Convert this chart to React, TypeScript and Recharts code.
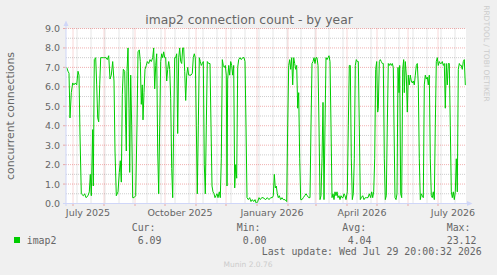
import React from 'react';
import { LineChart, Line, XAxis, YAxis, ReferenceLine, ReferenceArea } from 'recharts';

// day offset from the left edge of the graph (≈ 24 Jun 2025)
const days = [
  0.7, 2, 3, 4, 5.3, 6.7, 8, 9.3, 10.7, 12, 13, 14, 15.3, 17.3, 18.7, 20, 22, 23.3, 24.3, 25.3,
  26.7, 27.3, 28.3, 29.7, 30.7, 31.7, 32.7, 33.7, 34.7, 36, 37.3, 38.7, 40, 41.3, 42.7, 44, 45.3, 46.7, 48, 49,
  50.3, 52, 53.3, 54.3, 55.3, 56.3, 57.3, 58.7, 59.7, 60.3, 61, 62, 63, 63.7, 64.7, 65.7, 66.7, 68, 69.7, 71,
  72, 73.3, 74.3, 75.3, 76.3, 77, 78, 79, 80.3, 81.3, 82.7, 84, 85.3, 86.7, 87.7, 88.7, 89.7, 90.7, 91.7, 92.7,
  93.7, 94.7, 95.7, 96.7, 97.7, 98.7, 99.7, 100.7, 101.7, 102.7, 103.7, 104.7, 105.7, 106.7, 107.7, 108.7, 109.7, 110.7, 111.7, 112.7,
  113.7, 114.7, 115.7, 116.7, 117.7, 118.7, 119.7, 120.7, 121.7, 122.7, 123.7, 125, 126.3, 127.3, 128.3, 129.3, 130.3, 131.3, 132.3, 133.3,
  134.3, 135.3, 136.3, 137.3, 138.3, 139.3, 140.3, 141.3, 142.7, 144, 145, 146, 147, 148, 149, 150, 151, 152, 153.3, 154.3,
  155.3, 156.3, 157.3, 158.3, 159.3, 160.3, 161, 161.7, 162.7, 163.7, 164.7, 165.7, 166.7, 167.7, 168.7, 169.7, 170.7, 171.7, 172.7, 174,
  175.3, 176.7, 178, 179, 180, 181, 182.3, 183.7, 185, 186.3, 187.7, 189, 190.3, 191.7, 193, 194.3, 195.7, 197,
  199.7, 201.3, 203, 204.7, 206.3, 207.3, 208.3, 209.3, 210.3, 211.3, 212.3, 213.3, 214.7, 216, 217.3, 219, 220.7,
  221.7, 222.7, 223.7, 224.7, 225.7, 226.7, 227.7, 228.7, 229.7, 230.7, 231.7, 232.7, 233.7, 234.7, 236, 237.3, 238.7, 240, 241.3, 242.7, 244,
  245, 246, 247, 248, 249, 250, 251, 252, 253, 254, 255, 256, 257, 258, 259, 260, 261, 262, 263, 264,
  265, 266, 267, 268, 269, 270, 271, 272, 273, 274, 275, 276, 277, 278, 279, 280, 281.3, 282.3, 283.3, 284.3,
  285.3, 286.3, 287.3, 288.3, 289.3, 290.3, 291.3, 292.3, 293.3, 294.3, 295.3, 296.7, 298, 299.3, 300.7, 302, 303.3, 304.7, 305.7, 306.7,
  307.7, 308.7, 309.7, 310.7, 311.7, 312.3, 313.3, 314.3, 315.3, 316.3, 317.3, 318.3, 319.3, 320.3, 321.3, 322.3, 323.3, 324.3, 325.3, 326.3,
  327.3, 328, 329, 330, 331, 332, 333, 333.7, 334.7, 335.7, 336.7, 337.7, 338.3, 339.3, 340.3, 341.3, 342.3, 343.3, 344.3, 345.3,
  346.3, 347.3, 348.3, 349.3, 350.3, 351.3, 352.3, 353.3, 354.3, 355.3, 356.3, 357.3, 358.3, 359.3, 360.3, 361.3, 362.3, 363.3, 364.3, 365.3,
  366.3, 367.3, 368.3, 369.3, 370.3, 371.3, 372.3, 373.3, 374.3, 375.3, 376.3, 377.3, 378.3, 379.3, 380.3, 381.3, 382.3, 383.3, 384.3, 385.3,
  386.3, 387.3, 388.3, 389.3, 390.3, 391.3, 392.3, 393.3, 394.3, 395.3, 396.3, 397.3, 398.3, 399.3,
];

// concurrent connections at each of those days
const counts = [
  7.0, 6.8, 6.7, 4.4, 5.7, 6.2, 6.1, 6.2, 6.1, 6.8, 6.6, 3.5, 0.5, 0.4, 0.5, 0.3, 0.4, 0.6, 1.5, 0.4,
  3.8, 0.9, 7.4, 7.5, 6.1, 4.4, 4.2, 6.1, 7.5, 7.5, 7.5, 7.5, 7.5, 7.4, 7.6, 6.4, 6.6, 7.3, 6.3, 2.7,
  0.4, 0.6, 1.6, 2.2, 1.1, 5.6, 6.9, 6.8, 4.0, 2.7, 6.8, 8.0, 4.9, 1.6, 6.6, 4.0, 0.3, 0.3, 0.4, 4.0,
  7.8, 7.9, 7.3, 5.1, 6.1, 4.3, 5.7, 6.9, 7.1, 7.3, 7.2, 7.4, 7.3, 7.5, 8.0, 5.9, 7.1, 7.7, 2.7, 0.5,
  4.0, 7.3, 7.7, 7.5, 7.8, 7.5, 7.5, 6.3, 6.9, 7.3, 6.9, 5.4, 1.8, 0.3, 4.0, 7.5, 7.5, 7.7, 3.6, 7.5,
  8.0, 7.3, 7.2, 8.0, 8.0, 6.8, 5.3, 6.6, 7.0, 6.6, 6.6, 6.6, 6.7, 7.5, 7.7, 7.5, 4.0, 0.5, 4.0, 7.5,
  7.3, 7.1, 7.2, 7.3, 2.0, 0.5, 4.0, 7.3, 7.2, 7.2, 4.0, 0.9, 0.6, 0.5, 0.3, 0.4, 0.5, 0.3, 0.6, 0.3,
  2.3, 7.4, 7.1, 7.0, 7.1, 6.6, 0.9, 6.4, 7.1, 6.6, 7.3, 7.1, 6.6, 7.1, 0.8, 2.0, 1.3, 7.0, 7.4, 7.5,
  7.4, 7.5, 7.5, 7.3, 4.0, 0.3, 0.2, 0.3, 0.1, 0.2, 0.1, 0.2, 0.0, 0.1, 0.3, 0.2, 0.3, 0.3,
  0.2, 0.3, 0.2, 0.3, 0.3, 0.4, 1.5, 0.8, 0.9, 0.5, 0.3, 0.4, 0.2, 0.3, 0.2, 0.2, 0.1,
  4.0, 7.1, 7.4, 6.9, 7.5, 6.1, 7.5, 7.2, 6.9, 7.1, 4.9, 5.7, 2.3, 0.2, 0.2, 0.3, 0.4, 0.5, 0.4, 0.3,
  0.3, 4.0, 7.2, 7.3, 7.5, 7.2, 7.5, 7.5, 7.1, 4.0, 0.2, 0.4, 2.3, 5.2, 0.2, 4.0, 7.5, 7.4, 7.5, 7.6,
  7.3, 4.0, 0.3, 0.5, 0.2, 0.6, 0.4, 0.6, 0.3, 0.4, 0.2, 0.4, 0.3, 0.3, 0.5, 0.4, 0.2, 0.6, 4.0, 7.1,
  7.1, 2.3, 0.2, 0.5, 2.3, 7.1, 7.4, 7.3, 7.3, 4.0, 0.2, 0.3, 0.4, 0.2, 0.3, 0.3, 0.3, 0.5, 0.3, 0.6,
  0.3, 0.6, 2.3, 6.9, 7.3, 4.7, 4.9, 7.3, 7.4, 7.3, 7.2, 7.2, 2.3, 0.2, 0.4, 4.0, 7.2, 7.1, 7.2, 7.1,
  7.2, 7.0, 4.0, 0.3, 0.2, 0.5, 7.0, 5.7, 7.1, 0.5, 0.3, 6.9, 7.4, 5.7, 7.3, 6.6, 4.7, 6.6, 6.1, 6.6,
  6.3, 6.2, 6.3, 6.1, 6.6, 7.1, 7.2, 6.1, 2.3, 0.2, 0.5, 0.4, 0.3, 6.1, 6.6, 6.4, 6.5, 6.1, 6.6, 2.3,
  0.4, 0.3, 0.6, 0.2, 4.0, 7.3, 7.5, 7.1, 7.3, 7.2, 7.2, 7.3, 7.1, 7.2, 4.9, 7.2, 6.1, 7.2, 7.2, 4.0,
  0.6, 0.3, 0.6, 0.2, 0.6, 2.3, 0.6, 6.9, 7.2, 7.1, 7.1, 6.9, 7.3, 7.4, 6.09,
];

const yTicks = [0, 1, 2, 3, 4, 5, 6, 7, 8, 9];
const yMinorTicks = [0.5, 1.5, 2.5, 3.5, 4.5, 5.5, 6.5, 7.5, 8.5];
const monthStartDays = [7, 38, 69, 99, 130, 160, 191, 222, 250, 281, 311, 342, 372];
const minorGridDays = [11, 25, 39, 53, 67, 81, 95, 109, 123, 137, 151, 165, 179, 193, 207, 221, 235, 249, 263, 277, 291, 305, 319, 333, 347, 361, 375, 389];
const xLabelDays = [22, 114, 206, 296, 387];
const xLabels = ['July 2025', 'October 2025', 'January 2026', 'April 2026', 'July 2026'];

const title = 'imap2 connection count - by year';
const yAxisLabel = 'concurrent connections';
const seriesName = 'imap2';
const legendHeaders = ['Cur:', 'Min:', 'Avg:', 'Max:'];
const legendValues = ['6.09', '0.00', '4.04', '23.12'];
const lastUpdate = 'Last update: Wed Jul 29 20:00:32 2026';
const footer = 'Munin 2.0.76';
const sideText = 'RRDTOOL / TOBI OETIKER';

const chartData = days.map((d, i) => ({ day: d, count: counts[i] }));

const SANS = '"DejaVu Sans", sans-serif';
const MONO = '"DejaVu Sans Mono", monospace';
const FONT_COLOR = '#666666';
const MAJOR = 'rgba(222,79,79,0.45)';
const MINOR = 'rgba(143,143,143,0.45)';
const AXIS = '#CFD6F8';

const XTick = (props: any) => {
  const { x, y, payload } = props;
  const v = payload.value;
  const li = xLabelDays.indexOf(v);
  if (li >= 0) {
    return (
      <text x={x} y={y + 12} textAnchor="middle" fontFamily={SANS} fontSize={9.5} fill={FONT_COLOR}>
        {xLabels[li]}
      </text>
    );
  }
  return <line x1={x} x2={x} y1={y} y2={y + 2.5} stroke={MAJOR} />;
};

const YTick = (props: any) => {
  const { x, y, payload } = props;
  return (
    <g>
      <line x1={x - 3} x2={x} y1={y} y2={y} stroke={MAJOR} />
      <text x={x - 6} y={y + 3.5} textAnchor="end" fontFamily={SANS} fontSize={9.5} fill={FONT_COLOR}>
        {Number(payload.value).toFixed(1)}
      </text>
    </g>
  );
};

const xTickValues = [...monthStartDays, ...xLabelDays].sort((a, b) => a - b);

export default function App() {
  return (
    <div style={{ position: 'fixed', left: 0, top: 0, width: 497, height: 275, background: '#F0F0F0' }}>
      <LineChart
        width={497}
        height={275}
        data={chartData}
        margin={{ top: 28.5, right: 31, bottom: 41.5, left: 0 }}
      >
        <XAxis
          dataKey="day"
          type="number"
          domain={[0, 400]}
          ticks={xTickValues}
          interval={0}
          tick={<XTick />}
          tickLine={false}
          axisLine={false}
          tickSize={0}
          tickMargin={0}
          height={30}
        />
        <YAxis
          type="number"
          domain={[0, 9]}
          ticks={yTicks}
          interval={0}
          tick={<YTick />}
          tickLine={false}
          axisLine={false}
          tickSize={0}
          tickMargin={0}
          width={66}
        />
        <ReferenceArea x1={0} x2={400} y1={0} y2={9} fill="#FFFFFF" fillOpacity={1} stroke="none" ifOverflow="visible" />
        {yMinorTicks.map((v) => (
          <ReferenceLine key={'hm' + v} y={v} stroke={MINOR} strokeDasharray="1 1" />
        ))}
        {minorGridDays.map((v) => (
          <ReferenceLine key={'vm' + v} x={v} stroke={MINOR} strokeDasharray="1 1" />
        ))}
        {yTicks.filter((v) => v > 0).map((v) => (
          <ReferenceLine key={'hM' + v} y={v} stroke={MAJOR} strokeDasharray="1 1" />
        ))}
        {monthStartDays.map((v) => (
          <ReferenceLine key={'vM' + v} x={v} stroke={MAJOR} strokeDasharray="1 1" />
        ))}
        <Line
          type="linear"
          dataKey="count"
          stroke="#00CC00"
          strokeWidth={1}
          dot={false}
          activeDot={false}
          isAnimationActive={false}
        />
      </LineChart>
      <svg width={497} height={275} style={{ position: 'absolute', left: 0, top: 0, pointerEvents: 'none' }}>
        <line x1={66} y1={206} x2={66} y2={24} stroke={AXIS} strokeWidth={1} />
        <polygon points="63.5,26 68.5,26 66,20.5" fill={AXIS} />
        <line x1={63} y1={203.5} x2={469} y2={203.5} stroke={AXIS} strokeWidth={1} />
        <polygon points="467,201 467,206 472.5,203.5" fill={AXIS} />

        <text x={249} y={23.5} textAnchor="middle" fontFamily={SANS} fontSize={12.3} fill={FONT_COLOR}>
          {title}
        </text>
        <text
          x={10.7}
          y={116}
          textAnchor="middle"
          dominantBaseline="central"
          transform="rotate(-90, 10.7, 116)"
          fontFamily={SANS}
          fontSize={10.9}
          fill={FONT_COLOR}
        >
          {yAxisLabel}
        </text>
        <text
          x={486.7}
          y={53.5}
          textAnchor="middle"
          dominantBaseline="central"
          transform="rotate(90, 486.7, 53.5)"
          fontFamily={SANS}
          fontSize={7.5}
          fill="#CCCCCC"
        >
          {sideText}
        </text>

        <text x={131.7} y={230.8} fontFamily={MONO} fontSize={9.9} fill={FONT_COLOR}>{legendHeaders[0]}</text>
        <text x={236.7} y={230.8} fontFamily={MONO} fontSize={9.9} fill={FONT_COLOR}>{legendHeaders[1]}</text>
        <text x={342.3} y={230.8} fontFamily={MONO} fontSize={9.9} fill={FONT_COLOR}>{legendHeaders[2]}</text>
        <text x={446.7} y={230.8} fontFamily={MONO} fontSize={9.9} fill={FONT_COLOR}>{legendHeaders[3]}</text>
        <rect x={14} y={237} width={6} height={6} fill="#00CC00" />
        <text x={26.7} y={243.6} fontFamily={MONO} fontSize={9.9} fill={FONT_COLOR}>{seriesName}</text>
        <text x={137.7} y={243.6} fontFamily={MONO} fontSize={9.9} fill={FONT_COLOR}>{legendValues[0]}</text>
        <text x={242.7} y={243.6} fontFamily={MONO} fontSize={9.9} fill={FONT_COLOR}>{legendValues[1]}</text>
        <text x={347.7} y={243.6} fontFamily={MONO} fontSize={9.9} fill={FONT_COLOR}>{legendValues[2]}</text>
        <text x={446.7} y={243.6} fontFamily={MONO} fontSize={9.9} fill={FONT_COLOR}>{legendValues[3]}</text>
        <text x={261.7} y={255.3} fontFamily={MONO} fontSize={9.9} fill={FONT_COLOR}>{lastUpdate}</text>
        <text x={248} y={266.7} textAnchor="middle" fontFamily={SANS} fontSize={7.5} fill="#CCCCCC">{footer}</text>
      </svg>
    </div>
  );
}
